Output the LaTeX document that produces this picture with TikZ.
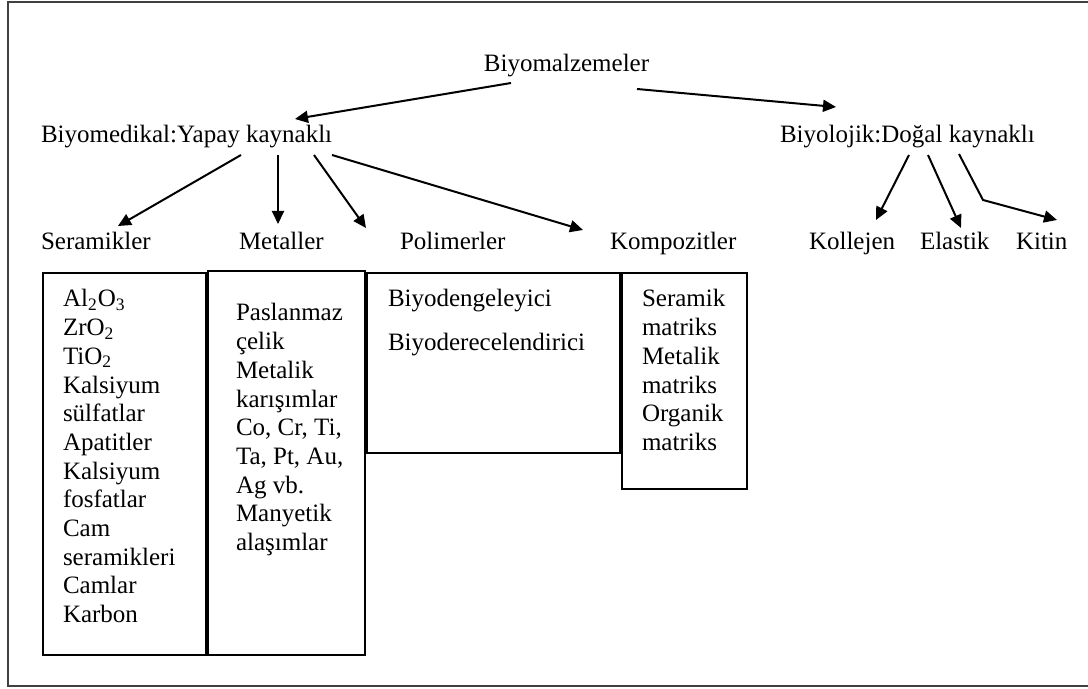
\documentclass[tikz,border=0pt]{standalone}
\usepackage{fontspec}
\setmainfont{Liberation Serif}
\usetikzlibrary{arrows.meta}

\begin{document}
\begin{tikzpicture}[x=0.5pt, y=-0.5pt, >={Triangle[length=6.5pt,width=6pt]},
		line width=1pt,
		etiket/.style={anchor=base west, inner sep=0pt,
			font=\fontsize{12.5}{15}\selectfont},
		kutu/.style={draw, line width=1pt},
		cerceve/.style={draw, line width=0.8pt, black!75}]
	\useasboundingbox (0,0) rectangle (1088,689);
	\draw[cerceve] (1100,2) -- (8,2) -- (8,686) -- (1100,686);

	\node[etiket, anchor=base] (kok) at (566.5,72) {Biyomalzemeler};
	\node[etiket] (yapay) at (40,143) {Biyomedikal:Yapay kaynaklı};
	\node[etiket] (dogal) at (779,143) {Biyolojik:Doğal kaynaklı};

	\node[etiket] (ser) at (40,250) {Seramikler};
	\node[etiket] (met) at (238,250) {Metaller};
	\node[etiket] (pol) at (399,250) {Polimerler};
	\node[etiket] (komp) at (609,250) {Kompozitler};
	\node[etiket] (kol) at (808,250) {Kollejen};
	\node[etiket] (ela) at (919,250) {Elastik};
	\node[etiket] (kit) at (1015,250) {Kitin};

	\draw[->] ([shift={(-55.5,11)}]kok.base) -- ([shift={(255,-24)}]yapay.base west);
	\draw[->] ([shift={(70.5,17)}]kok.base) -- ([shift={(57,-36)}]dogal.base west);

	\draw[->] ([shift={(201,12)}]yapay.base west) -- ([shift={(78,-24)}]ser.base west);
	\draw[->] ([shift={(238,12)}]yapay.base west) -- ([shift={(40,-26)}]met.base west);
	\draw[->] ([shift={(274,12)}]yapay.base west) -- ([shift={(-33,-22)}]pol.base west);
	\draw[->] ([shift={(292,12)}]yapay.base west) -- ([shift={(-26,-20)}]komp.base west);

	\draw[->] ([shift={(130,12)}]dogal.base west) -- ([shift={(68,-30)}]kol.base west);
	\draw[->] ([shift={(149,12)}]dogal.base west) -- ([shift={(42,-22)}]ela.base west);
	\draw[->] ([shift={(180,11)}]dogal.base west) -- ++(24,46)
		-- ([shift={(42,-30)}]kit.base west);

	\draw[kutu] (43,273) rectangle (206,655);
	\draw[kutu] (208,271) rectangle (365,655);
	\draw[kutu] (367,273) rectangle (620,453);
	\draw[kutu] (622,273) rectangle (747,489);

	\foreach \satir [count=\i] in {Al\textsubscript{2}O\textsubscript{3},
			ZrO\textsubscript{2}, TiO\textsubscript{2}, Kalsiyum, sülfatlar,
			Apatitler, Kalsiyum, fosfatlar, Cam, seramikleri, Camlar, Karbon}
		\node[etiket] (s\i) at (62,{307+28.7*(\i-1)}) {\satir};
	\foreach \satir [count=\i] in {Paslanmaz, çelik, Metalik, karışımlar,
			{Co, Cr, Ti,}, {Ta, Pt, Au,}, Ag vb., Manyetik, alaşımlar}
		\node[etiket] (m\i) at (235,{321+28.7*(\i-1)}) {\satir};
	\node[etiket] (p1) at (387,307) {Biyodengeleyici};
	\node[etiket] (p2) at (387,351) {Biyoderecelendirici};
	\foreach \satir [count=\i] in {Seramik, matriks, Metalik, matriks,
			Organik, matriks}
		\node[etiket] (k\i) at (641,{307+28.7*(\i-1)}) {\satir};
\end{tikzpicture}
\end{document}
